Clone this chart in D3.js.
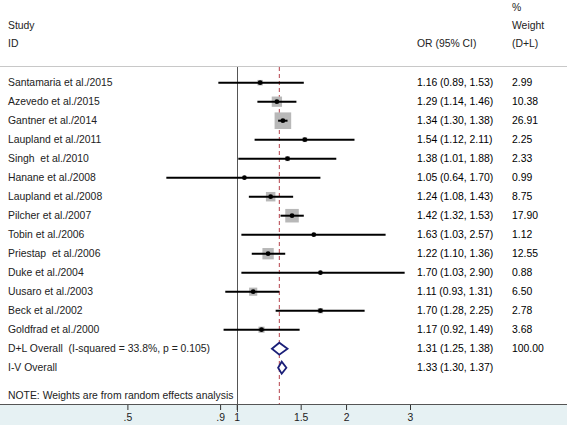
<!DOCTYPE html>
<html><head><meta charset="utf-8">
<script src="https://cdn.jsdelivr.net/npm/d3@7"></script>
<style>
body{margin:0;background:#fff;}
svg{display:block;font-family:"Liberation Sans",Arial,sans-serif;}
text{white-space:pre;}
</style></head>
<body><svg id="c" width="567" height="425"></svg>
<script>
const studies = ["Santamaria et al./2015","Azevedo et al./2015","Gantner et al./2014","Laupland et al./2011","Singh  et al./2010","Hanane et al./2008","Laupland et al./2008","Pilcher et al./2007","Tobin et al./2006","Priestap  et al./2006","Duke et al./2004","Uusaro et al./2003","Beck et al./2002","Goldfrad et al./2000"];
const orValues = [1.16,1.29,1.34,1.54,1.38,1.05,1.24,1.42,1.63,1.22,1.70,1.11,1.70,1.17];
const ciLow   = [0.89,1.14,1.30,1.12,1.01,0.64,1.08,1.32,1.03,1.10,1.03,0.93,1.28,0.92];
const ciHigh  = [1.53,1.46,1.38,2.11,1.88,1.70,1.43,1.53,2.57,1.36,2.90,1.31,2.25,1.49];
const weights = ["2.99","10.38","26.91","2.25","2.33","0.99","8.75","17.90","1.12","12.55","0.88","6.50","2.78","3.68"];
const overallLabels = ["D+L Overall  (I-squared = 33.8%, p = 0.105)","I-V Overall"];
const overallOR  = [1.31,1.33];
const overallLow = [1.25,1.30];
const overallHigh= [1.38,1.37];
const overallWeight = ["100.00",""];
const tickValues = [0.5,0.9,1,1.5,2,3];
const tickLabels = [".5",".9","1","1.5","2","3"];

const W=567,H=425;
const svg=d3.select("#c");
const x=d3.scaleLog().domain([0.5,3]).range([127.4,410]);
const y=d3.scaleLinear().domain([0,15]).range([82.7,367.7]);
const axisY=404;
const fs="10.4px";
const fmt=v=>v.toFixed(2);

// bottom band
svg.append("rect").attr("x",0).attr("y",axisY).attr("width",W).attr("height",H-axisY).attr("fill","#e6f1f3");

// header
const hdr=svg.append("g").attr("font-size",fs).attr("fill","#222");
hdr.append("text").attr("x",8).attr("y",25).attr("dy","0.35em").text("Study");
hdr.append("text").attr("x",8).attr("y",43).attr("dy","0.35em").text("ID");
hdr.append("text").attr("x",417).attr("y",43).attr("dy","0.35em").text("OR (95% CI)");
hdr.append("text").attr("x",512).attr("y",7).attr("dy","0.35em").text("%");
hdr.append("text").attr("x",512).attr("y",25).attr("dy","0.35em").text("Weight");
hdr.append("text").attr("x",512).attr("y",43).attr("dy","0.35em").text("(D+L)");
svg.append("line").attr("x1",0).attr("x2",W).attr("y1",66.5).attr("y2",66.5).attr("stroke","#c8c8c8").attr("stroke-width",1);

// null line
svg.append("line").attr("x1",Math.round(x(1))+0.5).attr("x2",Math.round(x(1))+0.5).attr("y1",67).attr("y2",412).attr("stroke","#555").attr("stroke-width",1);
// overall dashed line
svg.append("line").attr("x1",x(overallOR[0])).attr("x2",x(overallOR[0])).attr("y1",67).attr("y2",axisY).attr("stroke","#b5404a").attr("stroke-width",1).attr("stroke-dasharray","4,3");

// studies
const rows=svg.append("g");
studies.forEach((s,i)=>{
  const cy=y(i);
  const side=3.2*Math.sqrt(+weights[i]);
  rows.append("rect").attr("x",x(orValues[i])-side/2).attr("y",cy-side/2).attr("width",side).attr("height",side).attr("fill","#b8b8b8");
  rows.append("line").attr("x1",x(ciLow[i])).attr("x2",x(ciHigh[i])).attr("y1",cy).attr("y2",cy).attr("stroke","#000").attr("stroke-width",2);
  rows.append("circle").attr("cx",x(orValues[i])).attr("cy",cy).attr("r",2.4).attr("fill","#000");
  rows.append("text").attr("x",8).attr("y",cy).attr("dy","0.35em").attr("font-size",fs).attr("fill","#222").text(s);
  rows.append("text").attr("x",417).attr("y",cy).attr("dy","0.35em").attr("font-size",fs).attr("fill","#000").text(`${fmt(orValues[i])} (${fmt(ciLow[i])}, ${fmt(ciHigh[i])})`);
  rows.append("text").attr("x",512).attr("y",cy).attr("dy","0.35em").attr("font-size",fs).attr("fill","#000").text(weights[i]);
});

// overall
overallLabels.forEach((s,j)=>{
  const i=studies.length+j, cy=y(i), h=6;
  const pts=[[x(overallLow[j]),cy],[x(overallOR[j]),cy-h],[x(overallHigh[j]),cy],[x(overallOR[j]),cy+h]];
  rows.append("path").attr("d","M"+pts.map(p=>p.join(",")).join("L")+"Z").attr("fill","#fff").attr("stroke","#1a1f78").attr("stroke-width",1.8);
  rows.append("text").attr("x",8).attr("y",cy).attr("dy","0.35em").attr("font-size",fs).attr("fill","#222").text(s);
  rows.append("text").attr("x",417).attr("y",cy).attr("dy","0.35em").attr("font-size",fs).attr("fill","#000").text(`${fmt(overallOR[j])} (${fmt(overallLow[j])}, ${fmt(overallHigh[j])})`);
  if(overallWeight[j]) rows.append("text").attr("x",512).attr("y",cy).attr("dy","0.35em").attr("font-size",fs).attr("fill","#000").text(overallWeight[j]);
});

svg.append("text").attr("x",8).attr("y",395).attr("dy","0.35em").attr("font-size",fs).attr("fill","#222").text("NOTE: Weights are from random effects analysis");

// axis
const ax=svg.append("g").attr("transform",`translate(0,${axisY})`)
  .call(d3.axisBottom(x).tickValues(tickValues).tickFormat((d,i)=>tickLabels[i]).tickSize(6).tickPadding(4));
ax.select(".domain").remove();
ax.selectAll(".tick line").attr("stroke","#333");
ax.selectAll(".tick text").attr("font-size",fs).attr("fill","#222").attr("font-family","Liberation Sans, Arial, sans-serif");
svg.append("line").attr("x1",0).attr("x2",W).attr("y1",axisY+0.5).attr("y2",axisY+0.5).attr("stroke","#555").attr("stroke-width",1);
</script></body></html>
